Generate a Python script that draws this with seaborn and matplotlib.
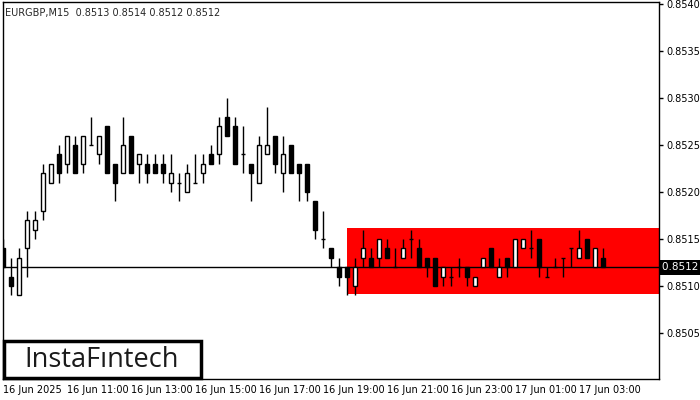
import matplotlib
matplotlib.use("Agg")
import matplotlib.pyplot as plt
import seaborn as sns
import pandas as pd
from matplotlib.patches import Rectangle

sns.set_style("white")
plt.rcParams['font.family'] = ['DejaVu Sans']

opens  = [8514,8511,8509,8514,8516,8518,8521,8524,8523,8525,8523,8525,8524,8527,8523,8522,8526,8523,8523,8523,
          8523,8521,8521,8520,8521,8522,8524,8524,8528,8527,8524,8523,8521,8524,8526,8522,8525,8523,8523,8519,
          8515,8514,8512,8512,8510,8513,8513,8513,8514,8512,8513,8515,8514,8513,8513,8511,8511,8512,8512,8510,
          8512,8514,8511,8513,8512,8514,8514,8515,8511,8512,8513,8514,8513,8515,8512,8513]
highs  = [8515,8513,8514,8518,8518,8523,8523,8525,8526,8526,8526,8528,8526,8527,8523,8528,8526,8524,8524,8524,
          8524,8524,8522,8523,8524,8524,8525,8528,8530,8528,8527,8523,8526,8529,8526,8526,8525,8523,8523,8519,
          8518,8514,8513,8512,8513,8516,8514,8515,8515,8514,8515,8516,8515,8513,8513,8512,8512,8513,8512,8511,
          8513,8514,8513,8513,8515,8515,8516,8515,8512,8513,8513,8514,8516,8515,8514,8514]
lows   = [8512,8509,8509,8511,8515,8517,8521,8521,8522,8522,8522,8525,8523,8522,8519,8522,8522,8521,8521,8522,
          8521,8520,8519,8520,8521,8521,8523,8523,8526,8523,8522,8519,8521,8524,8522,8520,8522,8519,8519,8515,
          8514,8512,8510,8509,8509,8512,8512,8512,8513,8512,8513,8513,8512,8511,8510,8510,8510,8511,8510,8510,
          8512,8512,8511,8511,8512,8514,8513,8511,8511,8512,8511,8512,8513,8513,8512,8512]
closes = [8512,8510,8513,8517,8517,8522,8523,8522,8526,8522,8526,8525,8526,8522,8521,8525,8522,8524,8522,8522,
          8522,8522,8521,8522,8521,8523,8523,8527,8526,8523,8524,8522,8525,8525,8523,8524,8522,8522,8520,8516,
          8515,8513,8511,8511,8512,8514,8512,8515,8513,8512,8514,8515,8512,8512,8510,8512,8511,8512,8511,8511,
          8513,8512,8512,8512,8515,8515,8514,8512,8511,8512,8513,8514,8514,8513,8514,8512]
tick_labels = ["16 Jun 2025", "16 Jun 11:00", "16 Jun 13:00", "16 Jun 15:00", "16 Jun 17:00",
               "16 Jun 19:00", "16 Jun 21:00", "16 Jun 23:00", "17 Jun 01:00", "17 Jun 03:00"]
price_ticks = [0.8505, 0.8510, 0.8515, 0.8520, 0.8525, 0.8530, 0.8535, 0.8540]
zone_top, zone_bottom, zone_start = 0.85162, 0.85091, 43
last_price = 0.8512
title = "EURGBP,M15  0.8513 0.8514 0.8512 0.8512"

df = pd.DataFrame({"o": opens, "h": highs, "l": lows, "c": closes}) / 10000.0
df["i"] = range(len(df))

fig = plt.figure(figsize=(7, 4), dpi=100)
ax = fig.add_axes([3/700, 21/400, 656/700, 377/400])
ax.set_xlim(0, 82)
ax.set_ylim(0.85001, 0.85402)

ax.add_patch(Rectangle((zone_start, zone_bottom), 82 - zone_start, zone_top - zone_bottom,
                       facecolor="#ff0000", edgecolor="none", zorder=1))
ax.axhline(last_price, color="black", lw=1, zorder=2)

w = 0.6
for _, r in df.iterrows():
    ax.vlines(r.i, r.l, r.h, color="black", lw=1, zorder=3)
    lo, hi = min(r.o, r.c), max(r.o, r.c)
    if hi - lo < 1e-9:
        ax.hlines(r.o, r.i - w/2, r.i + w/2, color="black", lw=1, zorder=4)
    else:
        fc = "white" if r.c > r.o else "black"
        ax.add_patch(Rectangle((r.i - w/2, lo), w, hi - lo, facecolor=fc,
                               edgecolor="black", lw=1, zorder=4))

for s in ax.spines.values():
    s.set_color("black"); s.set_linewidth(1)
ax.yaxis.tick_right()
ax.set_yticks(price_ticks)
ax.set_yticklabels([f"{p:.4f}" for p in price_ticks])
ax.set_xticks(list(range(0, 80, 8)))
ax.set_xticklabels(tick_labels, ha="left")
ax.tick_params(axis="both", direction="out", length=3, width=1, labelsize=7, pad=1, colors="black")
ax.tick_params(axis="y", pad=2)

ax.text(0.003, 0.985, title, transform=ax.transAxes, fontsize=7, va="top", ha="left")
ax.text(1.004, last_price, "0.8512 ", transform=ax.get_yaxis_transform(), fontsize=7.5,
        color="white", va="center", ha="left",
        bbox=dict(boxstyle="square,pad=0.25", facecolor="black", edgecolor="none"))

fig.patches.append(Rectangle((4/700, 22/400), 197/700, 37/400, transform=fig.transFigure,
                             facecolor="white", edgecolor="black", lw=2.5, zorder=10))
fig.text(102/700, 40/400, "InstaF\u0131ntech", fontsize=19.5, family="Open Sans", weight="medium",
         ha="center", va="center", color="#1a1a1a", zorder=11)

fig.savefig("out.png", dpi=100)
